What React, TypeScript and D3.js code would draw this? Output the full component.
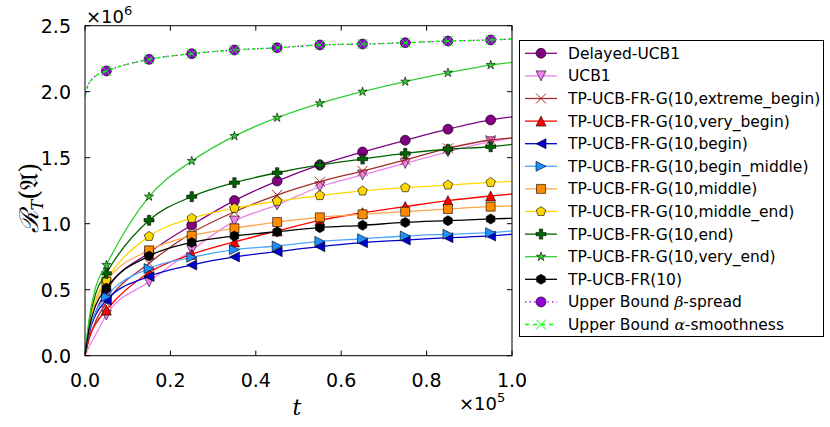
import React from "react";
import * as d3 from "d3";

// x positions (units of 1e5) and values (units of 1e6)
const tLine = [0, 0.01, 0.025, 0.05, 0.15, 0.25, 0.35, 0.45, 0.55, 0.65, 0.75, 0.85, 0.95, 1.0];
const tMarks = [0.05, 0.15, 0.25, 0.35, 0.45, 0.55, 0.65, 0.75, 0.85, 0.95];

const delayedUcb1 = [0, 0.17, 0.33, 0.49, 0.78, 0.99, 1.175, 1.323, 1.445, 1.543, 1.632, 1.716, 1.786, 1.81];
const ucb1 = [0, 0.07, 0.16, 0.308, 0.56, 0.8, 1.02, 1.142, 1.28, 1.369, 1.457, 1.545, 1.621, 1.65];
const extremeBegin = [0, 0.13, 0.26, 0.4, 0.7, 0.93, 1.09, 1.217, 1.318, 1.399, 1.483, 1.571, 1.634, 1.65];
const veryBegin = [0, 0.14, 0.24, 0.346, 0.63, 0.768, 0.862, 0.945, 1.025, 1.083, 1.13, 1.175, 1.21, 1.225];
const begin = [0, 0.18, 0.31, 0.42, 0.6, 0.687, 0.748, 0.788, 0.826, 0.856, 0.876, 0.894, 0.907, 0.92];
const beginMiddle = [0, 0.19, 0.33, 0.447, 0.66, 0.745, 0.803, 0.831, 0.866, 0.886, 0.907, 0.92, 0.932, 0.945];
const middle = [0, 0.23, 0.41, 0.56, 0.798, 0.908, 0.965, 1.012, 1.048, 1.071, 1.091, 1.111, 1.129, 1.134];
const middleEnd = [0, 0.24, 0.43, 0.573, 0.904, 1.041, 1.117, 1.17, 1.213, 1.248, 1.273, 1.293, 1.313, 1.321];
const end = [0, 0.26, 0.47, 0.624, 1.026, 1.205, 1.311, 1.386, 1.445, 1.49, 1.533, 1.564, 1.583, 1.601];
const veryEnd = [0, 0.285, 0.52, 0.687, 1.205, 1.475, 1.664, 1.803, 1.912, 2.0, 2.076, 2.144, 2.202, 2.222];
const fr10 = [0, 0.21, 0.38, 0.511, 0.755, 0.858, 0.907, 0.939, 0.97, 0.988, 1.01, 1.023, 1.036, 1.041];

const tBound = [0, 0.005, 0.015, 0.03, 0.05, 0.15, 0.25, 0.35, 0.45, 0.55, 0.65, 0.75, 0.85, 0.95, 1.0];
const upperBound = [1.96, 2.03, 2.09, 2.13, 2.157, 2.245, 2.288, 2.316, 2.333, 2.354, 2.361, 2.371, 2.384, 2.392, 2.4];

const xTicks = [0, 0.2, 0.4, 0.6, 0.8, 1.0];
const yTicks = [0, 0.5, 1.0, 1.5, 2.0, 2.5];

type Series = {
  name: React.ReactNode;
  t: number[];
  v: number[];
  color: string;
  fill: string;
  marker: string;
  dash?: string;
};

const series: Series[] = [
  { name: "Delayed-UCB1", t: tLine, v: delayedUcb1, color: "#800080", fill: "#800080", marker: "circle" },
  { name: "UCB1", t: tLine, v: ucb1, color: "#ee82ee", fill: "#ee82ee", marker: "tdown" },
  { name: "TP-UCB-FR-G(10,extreme_begin)", t: tLine, v: extremeBegin, color: "#a52a2a", fill: "none", marker: "x" },
  { name: "TP-UCB-FR-G(10,very_begin)", t: tLine, v: veryBegin, color: "#ff0000", fill: "#ff0000", marker: "tup" },
  { name: "TP-UCB-FR-G(10,begin)", t: tLine, v: begin, color: "#0000cd", fill: "#0000cd", marker: "tleft" },
  { name: "TP-UCB-FR-G(10,begin_middle)", t: tLine, v: beginMiddle, color: "#4da6ff", fill: "#1e90ff", marker: "tright" },
  { name: "TP-UCB-FR-G(10,middle)", t: tLine, v: middle, color: "#ffa64d", fill: "#ff8c00", marker: "square" },
  { name: "TP-UCB-FR-G(10,middle_end)", t: tLine, v: middleEnd, color: "#ffd700", fill: "#ffd700", marker: "pentagon" },
  { name: "TP-UCB-FR-G(10,end)", t: tLine, v: end, color: "#006400", fill: "#006400", marker: "plus" },
  { name: "TP-UCB-FR-G(10,very_end)", t: tLine, v: veryEnd, color: "#32cd32", fill: "#32cd32", marker: "star" },
  { name: "TP-UCB-FR(10)", t: tLine, v: fr10, color: "#000000", fill: "#000000", marker: "hexagon" },
  {
    name: (
      <>
        Upper Bound <tspan fontFamily="DejaVu Serif" fontStyle="italic">β</tspan>-spread
      </>
    ),
    t: tBound, v: upperBound, color: "#9400d3", fill: "#9400d3", marker: "circle", dash: "1.5,3",
  },
  {
    name: (
      <>
        Upper Bound <tspan fontFamily="DejaVu Serif" fontStyle="italic">α</tspan>-smoothness
      </>
    ),
    t: tBound, v: upperBound, color: "#00ff00", fill: "none", marker: "x", dash: "4,4",
  },
];

const poly = (pts: [number, number][]) => "M" + pts.map((p) => p.join(",")).join("L") + "Z";

const markerPath = (kind: string, s = 5): string => {
  switch (kind) {
    case "circle":
      return `M${s},0A${s},${s} 0 1,1 ${-s},0A${s},${s} 0 1,1 ${s},0Z`;
    case "tup":
      return poly([[0, -s], [-s, s], [s, s]]);
    case "tdown":
      return poly([[0, s], [-s, -s], [s, -s]]);
    case "tleft":
      return poly([[-s, 0], [s, -s], [s, s]]);
    case "tright":
      return poly([[s, 0], [-s, -s], [-s, s]]);
    case "square":
      return poly([[-4.5, -4.5], [4.5, -4.5], [4.5, 4.5], [-4.5, 4.5]]);
    case "pentagon":
      return poly(d3.range(5).map((i) => {
        const a = -Math.PI / 2 + (i * 2 * Math.PI) / 5;
        return [s * Math.cos(a), s * Math.sin(a)] as [number, number];
      }));
    case "hexagon":
      return poly(d3.range(6).map((i) => {
        const a = -Math.PI / 2 + (i * Math.PI) / 3;
        return [s * Math.cos(a), s * Math.sin(a)] as [number, number];
      }));
    case "star":
      return poly(d3.range(10).map((i) => {
        const a = -Math.PI / 2 + (i * Math.PI) / 5;
        const r = i % 2 === 0 ? 4.8 : 4.8 * 0.382;
        return [r * Math.cos(a), r * Math.sin(a)] as [number, number];
      }));
    case "plus": {
      const a = s / 3, b = s;
      return poly([[-a, -b], [a, -b], [a, -a], [b, -a], [b, a], [a, a], [a, b], [-a, b], [-a, a], [-b, a], [-b, -a], [-a, -a]]);
    }
    case "x":
      return `M${-s},${-s}L${s},${s}M${-s},${s}L${s},${-s}`;
  }
  return "";
};

const Marker = ({ s, x, y }: { s: Series; x: number; y: number }) =>
  s.marker === "x" ? (
    <path d={markerPath("x")} transform={`translate(${x},${y})`} fill="none" stroke={s.color} strokeWidth={1} />
  ) : (
    <path
      d={markerPath(s.marker)}
      transform={`translate(${x},${y})`}
      fill={s.fill}
      stroke="#000"
      strokeWidth={0.6}
    />
  );

const App = () => {
  const W = 830, H = 427;
  const left = 85, right = 512, top = 25.7, bottom = 355.7;

  const x = d3.scaleLinear().domain([0, 1]).range([left, right]);
  const y = d3.scaleLinear().domain([0, 2.5]).range([bottom, top]);

  const line = (s: Series) =>
    d3
      .line<number>()
      .x((_, i) => x(s.t[i]))
      .y((d) => y(d))
      .curve(d3.curveMonotoneX)(s.v) || "";

  const markVal = (s: Series, t: number) => s.v[s.t.indexOf(t)];

  const legX = 519.5, legY = 40.5, legW = 304, legH = 296;
  const rowH = 22.6;

  const font = "DejaVu Sans, sans-serif";

  return (
    <svg
      width={W}
      height={H}
      style={{ position: "absolute", left: 0, top: 0, background: "#fff" }}
      fontFamily={font}
    >
      <rect width={W} height={H} fill="#fff" />
      <defs>
        <clipPath id="plot">
          <rect x={left} y={top} width={right - left} height={bottom - top} />
        </clipPath>
      </defs>

      <g clipPath="url(#plot)">
        {series.map((s, k) => (
          <g key={k}>
            <path d={line(s)} fill="none" stroke={s.color} strokeWidth={1.3} strokeDasharray={s.dash} />
            {tMarks.map((t) => (
              <Marker key={t} s={s} x={x(t)} y={y(markVal(s, t))} />
            ))}
          </g>
        ))}
      </g>

      {/* frame and ticks */}
      <rect x={left} y={top} width={right - left} height={bottom - top} fill="none" stroke="#000" strokeWidth={1} />
      {xTicks.map((t) => (
        <g key={t}>
          <line x1={x(t)} x2={x(t)} y1={bottom} y2={bottom - 5} stroke="#000" />
          <line x1={x(t)} x2={x(t)} y1={top} y2={top + 5} stroke="#000" />
          <text x={x(t)} y={387} fontSize={19} textAnchor="middle">
            {t.toFixed(1)}
          </text>
        </g>
      ))}
      {yTicks.map((v) => (
        <g key={v}>
          <line x1={left} x2={left + 5} y1={y(v)} y2={y(v)} stroke="#000" />
          <line x1={right} x2={right - 5} y1={y(v)} y2={y(v)} stroke="#000" />
          <text x={71} y={y(v)} dy="0.36em" fontSize={19} textAnchor="end">
            {v.toFixed(1)}
          </text>
        </g>
      ))}

      {/* offset labels */}
      <text x={86} y={23} fontSize={18}>
        ×10<tspan fontSize={13} dy={-8}>6</tspan>
      </text>
      <text x={459} y={410} fontSize={18}>
        ×10<tspan fontSize={13} dy={-8}>5</tspan>
      </text>

      {/* axis labels */}
      <text x={297} y={415} fontSize={22} fontFamily="DejaVu Serif" fontStyle="italic" textAnchor="middle">
        t
      </text>
      <g transform="translate(38,198) rotate(-90)">
        <text textAnchor="middle" fontSize={26} fontFamily="DejaVu Serif">
          <tspan fontStyle="italic">ℛ</tspan>
          <tspan fontSize={16} dy={5} fontStyle="italic">T</tspan>
          <tspan dy={-5}>(𝔄)</tspan>
        </text>
      </g>

      {/* legend */}
      <rect x={legX} y={legY} width={legW} height={legH} fill="#fff" stroke="#000" strokeWidth={1} />
      {series.map((s, k) => {
        const yy = 53.3 + k * rowH;
        return (
          <g key={k}>
            <line x1={525} x2={557} y1={yy} y2={yy} stroke={s.color} strokeWidth={1.3} strokeDasharray={s.dash} />
            <Marker s={s} x={541} y={yy} />
            <text x={568} y={yy} dy="0.36em" fontSize={15.5}>
              {s.name}
            </text>
          </g>
        );
      })}
    </svg>
  );
};

export default App;
